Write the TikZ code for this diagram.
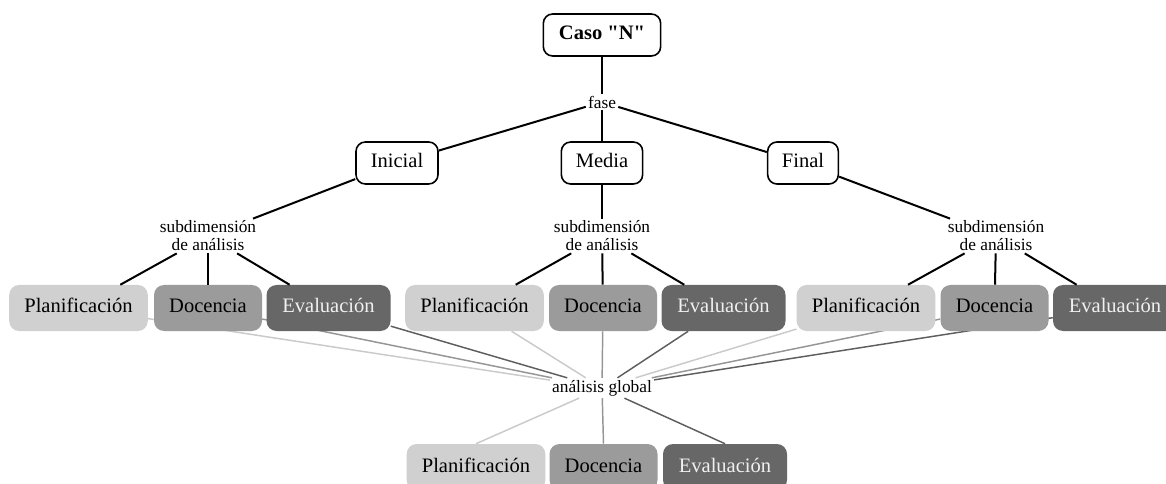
\documentclass[tikz,border=0pt]{standalone}
\usepackage{fontspec}
\setmainfont{Liberation Serif}[Ligatures=TeXOff]
\usetikzlibrary{backgrounds}
\definecolor{planc}{HTML}{D0D0D0}
\definecolor{docc}{HTML}{9B9B9B}
\definecolor{evalc}{HTML}{676767}
\definecolor{evalt}{HTML}{F0F0F0}
\definecolor{planl}{HTML}{CACACA}
\definecolor{docl}{HTML}{959595}
\definecolor{evall}{HTML}{5E5E5E}
\begin{document}
\begin{tikzpicture}[x=0.75pt,y=-0.75pt,
  tree/.style={line width=1.5pt, draw=black},
  boxfont/.style={font=\fontsize{15.4}{18}\selectfont, text height=10.5pt, text depth=3pt},
  topbox/.style={boxfont, draw=black, line width=1.2pt, rounded corners=7pt, fill=white, minimum height=31.5pt, inner sep=0pt},
  lbl/.style={inner sep=1.5pt, align=center, font=\fontsize{13}{13.5}\selectfont},
  cbox/.style={boxfont, rounded corners=7.5pt, minimum height=34.5pt, inner sep=0pt},
  planbox/.style={cbox, fill=planc, minimum width=104pt},
  docbox/.style={cbox, fill=docc, minimum width=81pt},
  evalbox/.style={cbox, fill=evalc, text=evalt, minimum width=93pt},
  pline/.style={line width=1.1pt, draw=planl},
  dline/.style={line width=1.1pt, draw=docl},
  eline/.style={line width=1.1pt, draw=evall}]
\useasboundingbox (0,0) rectangle (1166,484);
\clip (0,0) rectangle (1166,484);

\node[topbox, minimum width=88pt, font=\fontsize{15.4}{18}\selectfont\bfseries] (caso) at (602,35) {Caso "N"};
\node[lbl] (fase) at (602,102) {fase};
\node[topbox, minimum width=61.5pt] (ini) at (397,163) {Inicial};
\node[topbox, minimum width=61pt] (med) at (602,163) {Media};
\node[topbox, minimum width=53pt] (fin) at (803,163) {Final};

\node[lbl] (subL) at (208,236) {subdimensión\\de análisis};
\node[lbl] (subM) at (602,236) {subdimensión\\de análisis};
\node[lbl] (subR) at (996,236) {subdimensión\\de análisis};

\node[planbox] (lP) at (78.5,308) {Planificación};
\node[docbox]  (lD) at (208,308) {Docencia};
\node[evalbox] (lE) at (328.5,308) {Evaluación};
\node[planbox] (mP) at (474.5,308) {Planificación};
\node[docbox]  (mD) at (603,308) {Docencia};
\node[evalbox] (mE) at (723.5,308) {Evaluación};
\node[planbox] (rP) at (866,308) {Planificación};
\node[docbox]  (rD) at (994.5,308) {Docencia};
\node[evalbox] (rE) at (1115,308) {Evaluación};

\node[lbl] (ag) at (602,388) {análisis global};

\node[planbox] (bP) at (476,467) {Planificación};
\node[docbox]  (bD) at (603.5,467) {Docencia};
\node[evalbox] (bE) at (725,467) {Evaluación};

\draw[tree] (caso) -- (fase);
\draw[tree] (fase) -- (ini);
\draw[tree] (fase) -- (med);
\draw[tree] (fase) -- (fin);
\draw[tree] (ini) -- (subL);
\draw[tree] (med) -- (subM);
\draw[tree] (fin) -- (subR);
\foreach \s/\a/\b/\c in {subL/lP/lD/lE, subM/mP/mD/mE, subR/rP/rD/rE}{
  \draw[tree] (\s) -- (\a);
  \draw[tree] (\s) -- (\b);
  \draw[tree] (\s) -- (\c);
}

\begin{scope}[on background layer]
  \foreach \a/\b/\c in {lP/lD/lE, mP/mD/mE, rP/rD/rE}{
    \draw[pline] (\a) -- (ag);
    \draw[dline] (\b) -- (ag);
    \draw[eline] (\c) -- (ag);
  }
\end{scope}
\draw[pline] (ag) -- (bP.north);
\draw[dline] (ag) -- (bD.north);
\draw[eline] (ag) -- (bE.north);
\end{tikzpicture}
\end{document}
